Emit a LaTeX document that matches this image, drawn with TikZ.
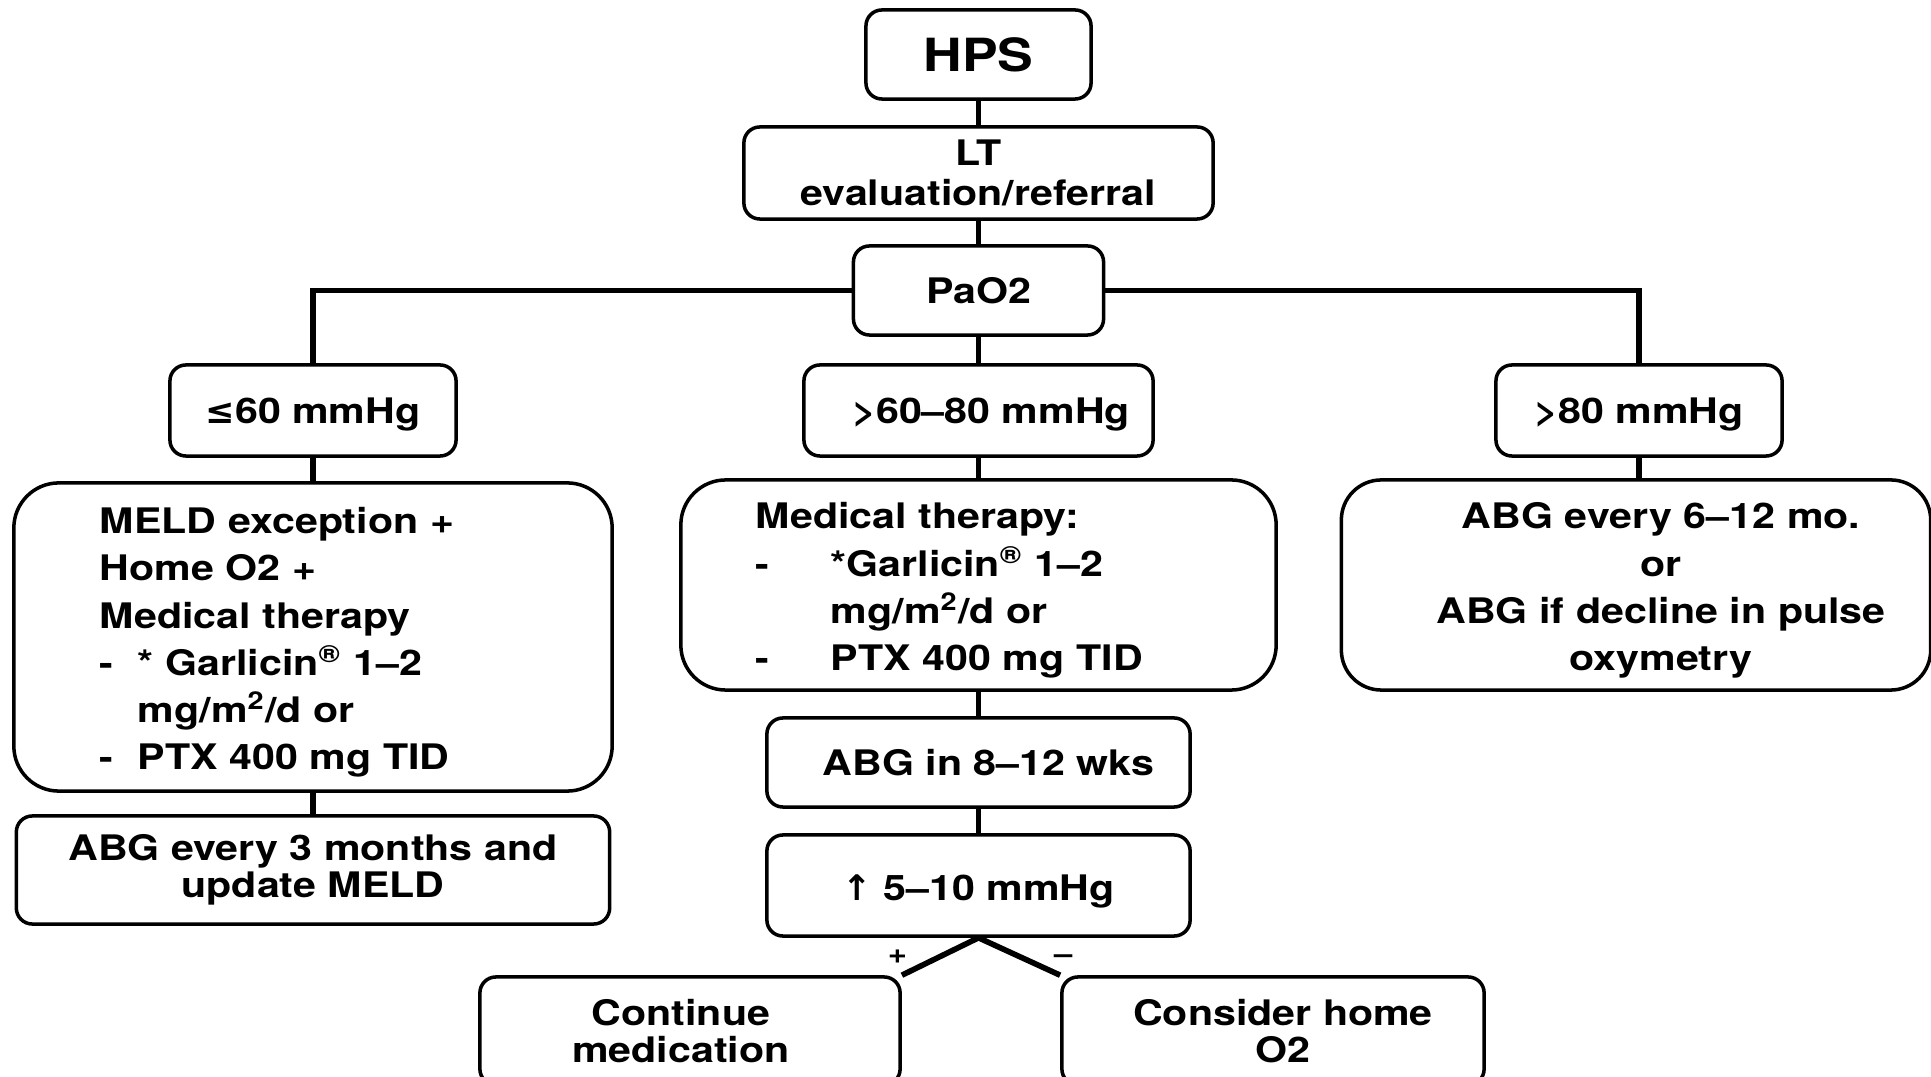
\documentclass[tikz,border=0pt]{standalone}
\usepackage{fontspec}
\setmainfont{TeX Gyre Heros}[FakeStretch=1.17]
\newfontfamily\symfont{DejaVu Sans}
\usetikzlibrary{calc}

\begin{document}
\begin{tikzpicture}[x=0.01cm,y=-0.01cm,
	box/.style={draw,line width=1pt,rounded corners=0.16cm,align=center,inner sep=0pt,font=\bfseries\fontsize{10}{10.6}\selectfont},
	bigbox/.style={box,rounded corners=0.45cm,font=\bfseries\fontsize{10}{13.4}\selectfont,sink=0.37cm},
	sink/.style={execute at begin node={\rule{0pt}{#1}}},
	link/.style={line width=1.6pt},
	sign/.style={inner sep=1pt,font=\bfseries\fontsize{8}{9}\selectfont}]
	\useasboundingbox (0,0) rectangle (1931,1077);
	% top of the tree
	\node[box,minimum width=2.25cm,minimum height=0.89cm,font=\bfseries\fontsize{13}{15}\selectfont] (hps) at (978.5,54.5) {HPS};
	\node[box,minimum width=4.69cm,minimum height=0.92cm,font=\bfseries\fontsize{10}{11.2}\selectfont] (lt) at (978.5,173) {LT\\evaluation/referral};
	\node[box,minimum width=2.5cm,minimum height=0.89cm] (pao2) at (978.5,290.5) {PaO2};
	% three PaO2 ranges
	\node[box,sink=0.33cm,minimum width=2.86cm,minimum height=0.91cm] (lo) at (313,410.5) {{\symfont ≤}60 mmHg};
	\node[box,sink=0.33cm,minimum width=3.49cm,minimum height=0.91cm] (mid) at (978.5,410.5) {\hspace*{0.25cm}>60–80 mmHg};
	\node[box,sink=0.33cm,minimum width=2.86cm,minimum height=0.91cm] (hi) at (1639,410.5) {>80 mmHg};
	% what to do in each case
	\node[bigbox,minimum width=5.98cm,minimum height=3.08cm,text width=4.26cm,inner xsep=0.86cm,align=left] (lobig) at (313,637) {MELD exception +\\Home O2 +\\Medical therapy\\\makebox[0.38cm][l]{-}* Garlicin\textsuperscript{®} 1–2\\\hspace*{0.38cm}mg/m\textsuperscript{2}/d or\\\makebox[0.38cm][l]{-}PTX 400 mg TID};
	\node[bigbox,minimum width=5.95cm,minimum height=2.1cm,text width=4.45cm,inner xsep=0.75cm,align=left] (midbig) at (978.5,585) {Medical therapy:\\\makebox[0.75cm][l]{-}*Garlicin\textsuperscript{®} 1–2\\\hspace*{0.75cm}mg/m\textsuperscript{2}/d or\\\makebox[0.75cm][l]{-}PTX 400 mg TID};
	\node[bigbox,rounded corners=0.4cm,minimum width=5.89cm,minimum height=2.1cm,text width=5cm,inner xsep=0.445cm,align=center] (hibig) at (1636,585) {\hspace*{0.5cm}ABG every 6–12 mo.\\\hspace*{0.5cm}or\\\hspace*{0.5cm}ABG if decline in pulse\\\hspace*{0.5cm}oxymetry};
	\node[box,sink=0.3cm,minimum width=5.93cm,minimum height=1.08cm] (lobot) at (313,870) {ABG every 3 months and\\update MELD};
	\node[box,minimum width=4.23cm,minimum height=0.89cm] (abg) at (978.5,762.5) {\hspace*{0.2cm}ABG in 8–12 wks};
	\node[box,sink=0.37cm,minimum width=4.23cm,minimum height=1.01cm] (up) at (978.5,885.5) {{\symfont ↑} 5–10 mmHg};
	\node[box,minimum width=4.2cm,minimum height=1.08cm] (cont) at (690,1031) {\hspace*{-0.18cm}Continue\\\hspace*{-0.18cm}medication};
	\node[box,minimum width=4.22cm,minimum height=1.08cm] (cons) at (1273,1031) {\hspace*{0.2cm}Consider home\\\hspace*{0.2cm}O2};
	% connectors
	\draw[link] (hps) -- (lt);
	\draw[link] (lt) -- (pao2);
	\draw[link] (pao2) -- (mid);
	\draw[link] (pao2.west) -| (lo.north);
	\draw[link] (pao2.east) -| (hi.north);
	\draw[link] (lo) -- (lobig);
	\draw[link] (lobig) -- (lobot);
	\draw[link] (mid) -- (midbig);
	\draw[link] (midbig) -- (abg);
	\draw[link] (abg) -- (up);
	\draw[link] (hi.south) -- (hi.south |- hibig.north);
	\draw[link] (up.south) -- node[sign,pos=0.85,above left] {+} (cont.north east);
	\draw[link] (up.south) -- node[sign,pos=0.85,above right] {–} (cons.north west);
\end{tikzpicture}
\end{document}
